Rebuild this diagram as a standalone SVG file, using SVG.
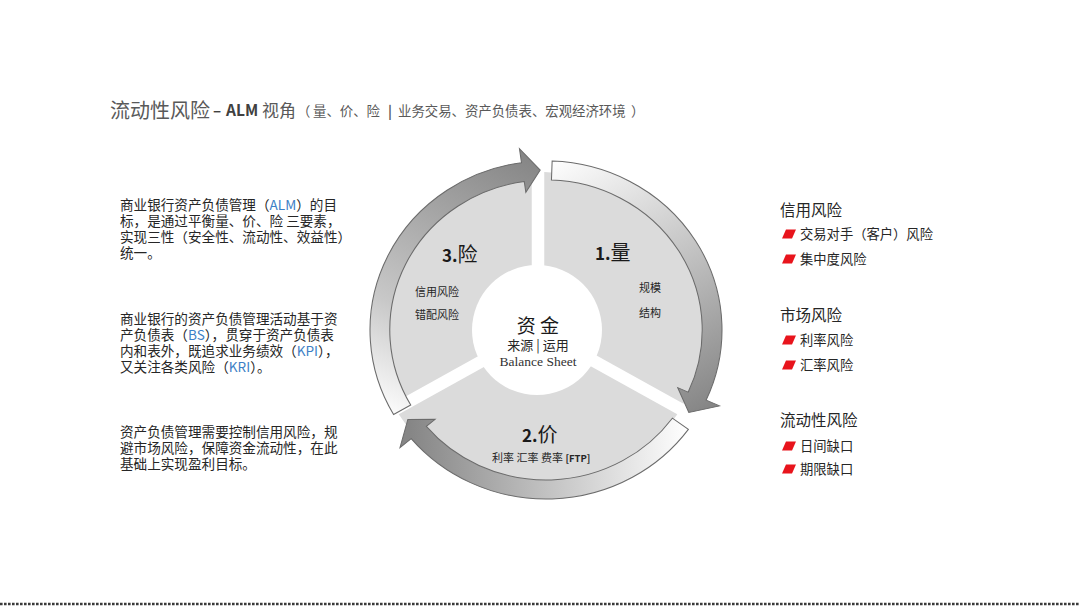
<svg xmlns="http://www.w3.org/2000/svg" width="1080" height="607" viewBox="0 0 1080 607">
<defs>
<style>
.cjk{font-family:"Noto Sans CJK SC","Noto Sans",sans-serif;}
.para{font-family:"Noto Sans CJK SC","Noto Sans",sans-serif;font-size:13.6px;fill:#262626;}
.blue{fill:#3d7fc6;}
.hdr{font-family:"Noto Sans CJK SC","Noto Sans",sans-serif;font-size:15.5px;fill:#262626;}
.item{font-family:"Noto Sans CJK SC","Noto Sans",sans-serif;font-size:13.3px;fill:#262626;}
.sec{fill:#dbdbdb;}
.band{stroke:#6b6b6b;stroke-width:1;stroke-linejoin:miter;}
.small{font-family:"Noto Sans CJK SC","Noto Sans",sans-serif;font-size:11px;fill:#262626;}
.num{font-family:"Noto Sans CJK SC","Noto Sans",sans-serif;fill:#1a1a1a;}
</style>
<path id="bul" d="M4 -4.5 L14 -4.5 L10 4.5 L0 4.5 Z" fill="#e8141c"/>
<linearGradient id="g1" gradientUnits="userSpaceOnUse" x1="0" y1="-169" x2="150" y2="80">
<stop offset="0" stop-color="#ffffff"/><stop offset="0.5" stop-color="#c4c4c4"/><stop offset="1" stop-color="#868686"/>
</linearGradient>
<linearGradient id="g2" gradientUnits="userSpaceOnUse" x1="137" y1="99" x2="-130" y2="109">
<stop offset="0" stop-color="#ffffff"/><stop offset="0.5" stop-color="#c4c4c4"/><stop offset="1" stop-color="#868686"/>
</linearGradient>
<linearGradient id="g3" gradientUnits="userSpaceOnUse" x1="-150" y1="90" x2="-10" y2="-169">
<stop offset="0" stop-color="#ffffff"/><stop offset="0.35" stop-color="#c8c8c8"/><stop offset="1" stop-color="#868686"/>
</linearGradient>
</defs>
<rect width="1080" height="607" fill="#ffffff"/>

<g id="title" class="cjk">
<text x="110" y="118" font-size="20" fill="#595959">流动性风险</text>
<text x="213" y="116" font-size="15" font-weight="bold" fill="#404040">–</text>
<text x="226" y="116" font-size="15.5" font-weight="bold" fill="#404040">ALM</text>
<text x="262" y="117" font-size="17" fill="#595959">视角</text>
<text y="116" font-size="13.4" fill="#595959"><tspan x="297">（</tspan><tspan x="313">量、价、险</tspan><tspan x="388" font-weight="bold">|</tspan><tspan x="398">业务交易、资产负债表、宏观经济环境</tspan><tspan x="631">）</tspan></text>
</g>

<g id="left-text">
<text class="para"><tspan x="120" y="210">商业银行资产负债管理（<tspan class="blue">ALM</tspan>）的目</tspan><tspan x="120" y="226">标，是通过平衡量、价、险 三要素，</tspan><tspan x="120" y="242">实现三性（安全性、流动性、效益性）</tspan><tspan x="120" y="258">统一。</tspan></text>
<text class="para"><tspan x="120" y="324">商业银行的资产负债管理活动基于资</tspan><tspan x="120" y="340">产负债表（<tspan class="blue">BS</tspan>），贯穿于资产负债表</tspan><tspan x="120" y="356">内和表外，既追求业务绩效（<tspan class="blue">KPI</tspan>），</tspan><tspan x="120" y="372">又关注各类风险（<tspan class="blue">KRI</tspan>）。</tspan></text>
<text class="para"><tspan x="120" y="437">资产负债管理需要控制信用风险，规</tspan><tspan x="120" y="453">避市场风险，保障资金流动性，在此</tspan><tspan x="120" y="469">基础上实现盈利目标。</tspan></text>
</g>

<g id="sectors" transform="translate(538,330) scale(1.0414,1)">
<g id="node-liang"><path class="sec" d="M 6 -3.46 L 6 -157.89 A 158 158 0 0 1 139.73 73.75 Z"/></g>
<g id="node-jia"><path class="sec" d="M 0 6.93 L 133.73 84.14 A 158 158 0 0 1 -133.73 84.14 Z"/></g>
<g id="node-xian"><path class="sec" d="M -6 -3.46 L -139.73 73.75 A 158 158 0 0 1 -6 -157.89 Z"/></g>
</g>

<g id="connectors" transform="translate(546,330) scale(1.0414,1)">
<path class="band" fill="url(#g1)" d="M 5.90 -168.90 A 169 169 0 0 1 153.79 70.08 L 166.53 75.89 L 137.15 82.40 L 126.49 57.64 L 136.50 62.21 A 150 150 0 0 0 5.23 -149.91 Z"/>
<path class="band" fill="url(#g2)" d="M 136.72 99.34 A 169 169 0 0 1 -129.46 108.63 L -140.18 117.63 L -132.65 89.47 L -106.47 89.35 L -114.90 96.42 A 150 150 0 0 0 121.35 88.17 Z"/>
<path class="band" fill="url(#g3)" d="M -146.36 84.5 A 169 169 0 0 1 -23.52 -167.36 L -25.47 -181.22 L -5.58 -159.90 L -19.35 -137.65 L -20.88 -148.54 A 150 150 0 0 0 -129.90 75 Z"/>
</g>

<g id="label-liang">
<text class="num" x="595" y="260"><tspan font-size="17" font-weight="bold">1.</tspan><tspan font-size="20">量</tspan></text>
<text class="small" x="639" y="292">规模</text>
<text class="small" x="639" y="317">结构</text>
</g>
<g id="label-xian">
<text class="num" x="442" y="262"><tspan font-size="17" font-weight="bold">3.</tspan><tspan font-size="20">险</tspan></text>
<text class="small" x="415" y="296">信用风险</text>
<text class="small" x="415" y="319">错配风险</text>
</g>
<g id="label-jia">
<text class="num" x="522" y="442"><tspan font-size="17" font-weight="bold">2.</tspan><tspan font-size="20">价</tspan></text>
<text class="small" x="492" y="462" font-size="11.5">利率 汇率 费率 <tspan font-size="9.5" font-weight="bold">[FTP]</tspan></text>
</g>

<g id="node-center">
<circle cx="537" cy="330" r="65" fill="#ffffff"/>
<text class="cjk" x="538" y="333" font-size="19" text-anchor="middle" fill="#1a1a1a">资 金</text>
<text class="cjk" x="538" y="350" font-size="13" text-anchor="middle" fill="#262626">来源 | 运用</text>
<text x="538" y="366" font-family="'Liberation Serif',serif" font-size="13.5" text-anchor="middle" fill="#333333">Balance Sheet</text>
</g>

<g id="right-credit">
<text class="hdr" x="780" y="216">信用风险</text>
<use href="#bul" x="782" y="234"/><text class="item" x="800" y="239">交易对手（客户）风险</text>
<use href="#bul" x="782" y="259"/><text class="item" x="800" y="264">集中度风险</text>
</g>
<g id="right-market">
<text class="hdr" x="780" y="321">市场风险</text>
<use href="#bul" x="782" y="340"/><text class="item" x="800" y="345">利率风险</text>
<use href="#bul" x="782" y="365"/><text class="item" x="800" y="370">汇率风险</text>
</g>
<g id="right-liquidity">
<text class="hdr" x="780" y="426">流动性风险</text>
<use href="#bul" x="782" y="446"/><text class="item" x="800" y="451">日间缺口</text>
<use href="#bul" x="782" y="469"/><text class="item" x="800" y="474">期限缺口</text>
</g>

<line x1="0" y1="604" x2="1080" y2="604" stroke="#3a3a3a" stroke-width="2.6" stroke-dasharray="2.6 1.4"/>
</svg>
